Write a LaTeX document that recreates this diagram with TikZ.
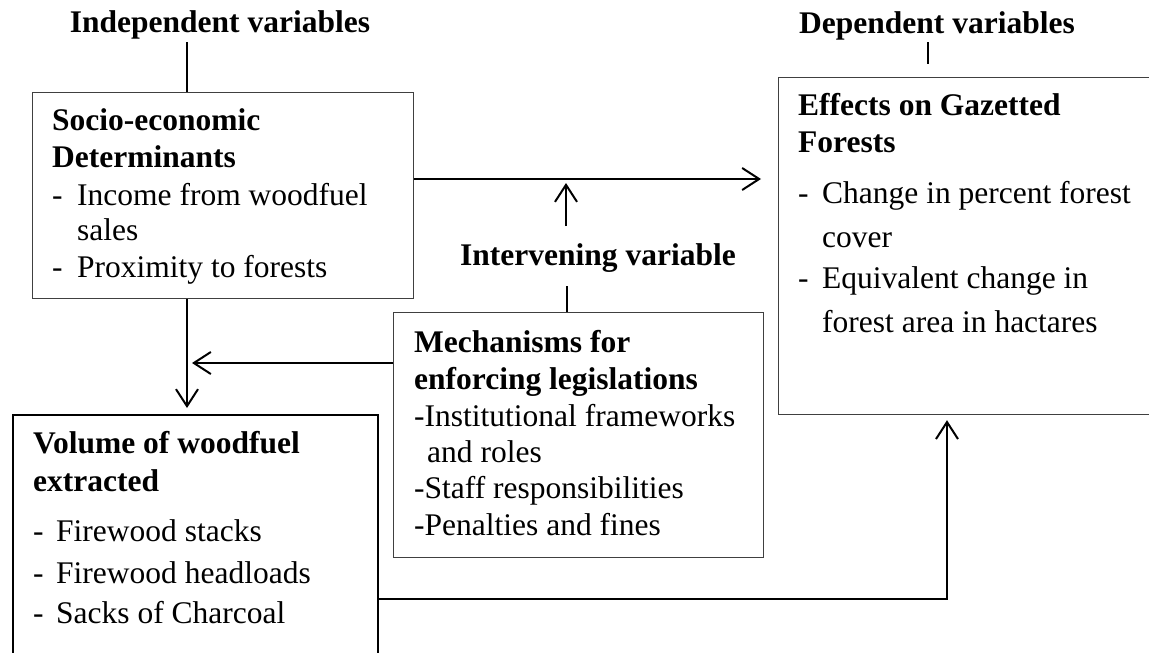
\documentclass[tikz,border=0pt]{standalone}
\usepackage{fontspec}
\setmainfont{Liberation Serif}
\usetikzlibrary{arrows.meta}
\tikzset{
  boxthin/.style={draw=black!75, line width=1.2pt, rectangle, inner sep=0pt, anchor=north west},
  boxthick/.style={draw=black, line width=1.8pt, rectangle, inner sep=0pt, anchor=north west},
  txt/.style={anchor=base west, inner sep=0pt, font=\fontsize{31.5}{36}\selectfont},
  hd/.style={anchor=base west, inner sep=0pt, font=\fontsize{31.5}{36}\selectfont\bfseries},
  title/.style={anchor=base, inner sep=0pt, font=\fontsize{31.5}{36}\selectfont\bfseries},
  conn/.style={draw=black, line width=2pt},
  arr/.style={conn, -{Straight Barb[length=17pt,width=22pt,line width=2pt]}},
  tick/.style={draw=black, line width=1.4pt}
}
\newcommand{\dashitem}[2]{\makebox[#1][l]{-}#2}
\begin{document}
\begin{tikzpicture}[x=1pt,y=-1pt]
\useasboundingbox (0,0) rectangle (1149,653);
\clip (0,0) rectangle (1149,653);

% boxes
\node[boxthin, minimum width=381pt, minimum height=206pt] (A) at (32,92) {};
\node[boxthick, minimum width=365pt, minimum height=300pt] (B) at (12,414) {};
\node[boxthin, minimum width=370pt, minimum height=245pt] (C) at (393,312) {};
\node[boxthin, minimum width=400pt, minimum height=337pt] (E) at (778,77) {};

% titles
\node[title] (IV) at (220,32) {Independent variables};
\node[title] (DV) at (937,33) {Dependent variables};
\node[title] (INV) at (598,265) {Intervening variable};

% box A text
\node[hd] (a1) at (52,130) {Socio-economic};
\node[hd] (a2) at (52,167) {Determinants};
\node[txt] (a3) at (52,205) {\dashitem{25pt}{Income from woodfuel}};
\node[txt] (a4) at (77,240) {sales};
\node[txt] (a5) at (52,277) {\dashitem{25pt}{Proximity to forests}};

% box B text
\node[hd] (b1) at (33,453) {Volume of woodfuel};
\node[hd] (b2) at (33,491) {extracted};
\node[txt] (b3) at (33,541) {\dashitem{23pt}{Firewood stacks}};
\node[txt] (b4) at (33,583) {\dashitem{23pt}{Firewood headloads}};
\node[txt] (b5) at (33,623) {\dashitem{23pt}{Sacks of Charcoal}};

% box C text
\node[hd] (c1) at (414,352) {Mechanisms for};
\node[hd] (c2) at (414,389) {enforcing legislations};
\node[txt] (c3) at (414,426) {-Institutional frameworks};
\node[txt] (c4) at (427,462) {and roles};
\node[txt] (c5) at (414,498) {-Staff responsibilities};
\node[txt] (c6) at (414,535) {-Penalties and fines};

% box E text
\node[hd] (e1) at (798,115) {Effects on Gazetted};
\node[hd] (e2) at (798,152) {Forests};
\node[txt] (e3) at (798,203) {\dashitem{24pt}{Change in percent forest}};
\node[txt] (e4) at (822,247) {cover};
\node[txt] (e5) at (798,288) {\dashitem{24pt}{Equivalent change in}};
\node[txt] (e6) at (822,332) {forest area in hactares};

% helper coordinates
\coordinate (ivt) at (187,42);
\coordinate (dvt1) at (928,42);
\coordinate (dvt2) at (928,64);
\coordinate (invt) at (567,286);
\coordinate (xab) at (187,0);
\coordinate (yae) at (0,179);
\coordinate (upb) at (566,226);
\coordinate (upt) at (566,183);
\coordinate (yc) at (0,363);
\coordinate (yb) at (0,599);
\coordinate (xbe) at (947,0);

% title ticks
\draw[tick] (ivt) -- (ivt |- A.north);
\draw[tick] (dvt1) -- (dvt2);
\draw[tick] (invt) -- (invt |- C.north);

% connectors
\draw[arr, shorten >=6pt] (xab |- A.south) -- (xab |- B.north);
\draw[arr, shorten >=17pt] (A.east |- yae) -- (E.west |- yae);
\draw[arr] (upb) -- (upt);
\draw[arr, shorten >=5pt] (C.west |- yc) -- (xab |- yc);
\draw[arr, shorten >=5pt] (B.east |- yb) -| (xbe |- E.south);
\end{tikzpicture}
\end{document}
